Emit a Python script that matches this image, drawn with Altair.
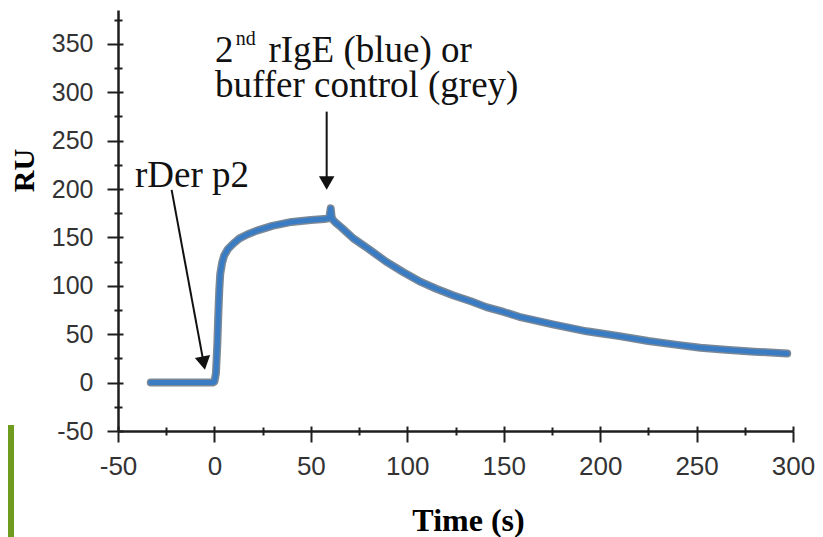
import altair as alt
import pandas as pd

# ---- sensorgram ----
time_s = [-33, -25, -15, -5, -1, 0, 0.8, 1.5, 2, 2.5, 3, 4, 5, 7, 10, 13, 17, 22, 30, 40,
          50, 57, 59.5, 60.3, 60.8, 61.5, 63, 66, 72, 80, 89, 98, 107, 115, 124, 133, 141,
          150, 158, 176, 193, 200, 210, 225, 240, 252, 265, 280, 297]
ru_blue = [0, 0, 0, 0, 0, 1, 10, 40, 70, 95, 112, 124, 131, 138, 144, 149, 153, 157, 162, 166,
           168, 169, 170, 180, 171, 168, 165, 160, 149, 138, 125, 114, 104, 97, 90, 84, 78,
           73, 68, 60, 53, 51, 48, 43, 39, 36, 34, 32, 30]
ru_grey = ru_blue  # buffer control overlaps the 2nd rIgE trace

x_major = [-50, 0, 50, 100, 150, 200, 250, 300]
x_minor = [-25, 25, 75, 125, 175, 225, 275]
y_major = [-50, 0, 50, 100, 150, 200, 250, 300, 350]
y_minor = [-25, 25, 75, 125, 175, 225, 275, 325, 375]

# ---- annotations ----
ann_text = ["rDer p2", "2", "nd", "rIgE (blue) or", "buffer control (grey)"]
ann_x = [-41.2, 0.3, 11.0, 28.0, 0.3]
ann_y = [202.2, 331.5, 348.5, 331.5, 295.2]
ann_size = [37, 37, 20, 37, 37]

arrow_x = [-22.2, 58.2]
arrow_y = [199.1, 280.0]
arrow_x2 = [-5.56, 58.2]
arrow_y2 = [20.2, 206.3]
arrow_angle = [169.5, 180]

W, H = 675, 421

trace = pd.DataFrame({"t": time_s, "blue": ru_blue, "grey": ru_grey})
ann = pd.DataFrame({"text": ann_text, "x": ann_x, "y": ann_y, "fs": ann_size})
arr = pd.DataFrame({"x": arrow_x, "y": arrow_y, "x2": arrow_x2, "y2": arrow_y2, "ang": arrow_angle})

xs = alt.Scale(domain=[-50, 300], nice=False, zero=False)
ys = alt.Scale(domain=[-50, 385], nice=False, zero=False)

AX = "#1e1e1e"

x_main = alt.Axis(orient="bottom", values=x_major, tickSize=11, tickWidth=2, tickColor=AX,
                  domainColor=AX, domainWidth=2.5, grid=False, labelFont="Liberation Sans",
                  labelFontSize=26, labelColor="#333333", labelPadding=11, labelOverlap=False,
                  labelFlush=False, labelExpr="'' + datum.value",
                  title="Time (s)", titleFont="Liberation Serif", titleFontSize=32,
                  titleFontWeight="bold", titleColor="black", titleX=350, titleY=99,
                  titleBaseline="alphabetic", titleAlign="center")
y_main = alt.Axis(orient="left", values=y_major, tickSize=11, tickWidth=2, tickColor=AX,
                  domainColor=AX, domainWidth=2.5, grid=False, labelFont="Liberation Sans",
                  labelFontSize=25, labelColor="#333333", labelPadding=14, labelOverlap=False,
                  labelFlush=False, labelExpr="'' + datum.value",
                  title="RU", titleFont="Liberation Serif", titleFontSize=30,
                  titleFontWeight="bold", titleColor="black", titleAngle=270,
                  titleX=-94, titleY=160, titleBaseline="middle", titleAlign="center")

def tick_axis(orient, vals, size, offset=0):
    return alt.Axis(orient=orient, values=vals, tickSize=size, tickWidth=2, tickColor=AX,
                    domain=False, labels=False, grid=False, title=None, offset=offset)

base = alt.Chart(trace)

grey_line = base.mark_line(color="#7a8896", strokeWidth=8, strokeCap="round",
                           strokeJoin="round").encode(
    x=alt.X("t:Q", scale=xs, axis=x_main),
    y=alt.Y("grey:Q", scale=ys, axis=y_main),
)
blue_line = base.mark_line(color="#3a7cc4", strokeWidth=5, strokeCap="round",
                           strokeJoin="round").encode(
    x=alt.X("t:Q", scale=xs, axis=tick_axis("bottom", x_minor, 4)),
    y=alt.Y("blue:Q", scale=ys, axis=tick_axis("left", y_minor, 4)),
)
inward_major = base.mark_line(opacity=0).encode(
    x=alt.X("t:Q", scale=xs, axis=tick_axis("top", x_major, 5, -H)),
    y=alt.Y("blue:Q", scale=ys, axis=tick_axis("right", y_major, 5, -W)),
)
inward_minor = base.mark_line(opacity=0).encode(
    x=alt.X("t:Q", scale=xs, axis=tick_axis("top", x_minor, 4, -H)),
    y=alt.Y("blue:Q", scale=ys, axis=tick_axis("right", y_minor, 4, -W)),
)

texts = alt.Chart(ann).mark_text(font="Liberation Serif", align="left", baseline="alphabetic",
                                 color="#111111").encode(
    x=alt.X("x:Q", scale=xs, axis=None),
    y=alt.Y("y:Q", scale=ys, axis=None),
    text="text:N",
    size=alt.Size("fs:Q", scale=None, legend=None),
)
shafts = alt.Chart(arr).mark_rule(color="#111111", strokeWidth=2).encode(
    x=alt.X("x:Q", scale=xs, axis=None),
    y=alt.Y("y:Q", scale=ys, axis=None),
    x2="x2:Q",
    y2="y2:Q",
)
heads = alt.Chart(arr).mark_point(shape="triangle-up", filled=True, opacity=1,
                                  color="#111111", size=240).encode(
    x=alt.X("x2:Q", scale=xs, axis=None),
    y=alt.Y("y2:Q", scale=ys, axis=None),
    angle=alt.Angle("ang:Q", scale=None),
)

green = alt.Chart(pd.DataFrame({"k": [0]})).mark_rect(color="#6f9b1f").encode(
    x=alt.value(-110), x2=alt.value(-104), y=alt.value(415), y2=alt.value(527)
)

chart = alt.layer(grey_line, blue_line, inward_major, inward_minor, shafts, heads, texts, green).resolve_axis(
    x="independent", y="independent"
).properties(
    width=W, height=H,
    autosize=alt.AutoSizeParams(type="none"),
    padding={"left": 110, "top": 2, "right": 22, "bottom": 106},
    background="white",
).configure_view(stroke="transparent")

chart.save("out.html", embed_options={"renderer": "svg", "actions": False})
